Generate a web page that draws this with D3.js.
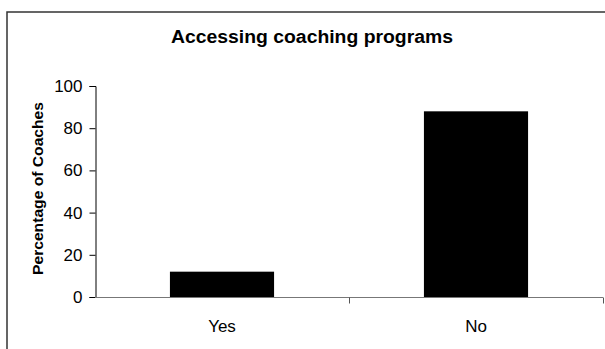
<!DOCTYPE html>
<html>
<head>
<meta charset="utf-8">
<script src="https://cdn.jsdelivr.net/npm/d3@7"></script>
<style>
  body { margin: 0; background: #fff; }
  svg { display: block; font-family: "Liberation Sans", Arial, sans-serif; }
</style>
</head>
<body>
<svg width="605" height="349"></svg>
<script>
// chart data
const categories = ["Yes", "No"]
const values = [12, 88]
const yTicks = [0, 20, 40, 60, 80, 100]

const svg = d3.select("svg")

// outer frame (cut off at right and bottom like the original)
svg.append("rect")
    .attr("x", 7)
    .attr("y", 12)
    .attr("width", 620)
    .attr("height", 360)
    .attr("fill", "none")
    .attr("stroke", "#333")
    .attr("stroke-width", 1.5)

const margin = { left: 95, right: 2, top: 86, bottom: 52 }
const width = 605
const height = 349

const x = d3.scaleBand()
    .domain(categories)
    .range([margin.left, width - margin.right])
    .paddingInner(0.59)
    .paddingOuter(0.295)

const y = d3.scaleLinear()
    .domain([0, 100])
    .range([height - margin.bottom, margin.top])

// bars
svg.append("g")
    .selectAll("rect")
    .data(values)
    .join("rect")
    .attr("x", (d, i) => x(categories[i]))
    .attr("y", d => y(d))
    .attr("width", x.bandwidth())
    .attr("height", d => y(0) - y(d))
    .attr("fill", "#000")

// y axis
const yAxis = svg.append("g")
    .attr("transform", `translate(${margin.left + 0.5},0)`)
    .call(d3.axisLeft(y).tickValues(yTicks).tickSize(6).tickPadding(7))
yAxis.selectAll("text").style("font-size", "17px").attr("fill", "#000")
yAxis.select(".domain").attr("stroke", "#000")

// x axis: ticks sit between the categories
const xAxis = svg.append("g")
    .attr("transform", `translate(0,${y(0) + 0.5})`)
xAxis.append("line")
    .attr("x1", margin.left)
    .attr("x2", width - margin.right)
    .attr("stroke", "#777")
xAxis.selectAll("line.tick")
    .data(categories)
    .join("line")
    .attr("class", "tick")
    .attr("x1", d => x(d) + x.bandwidth() + x.step() * x.paddingInner() / 2 + 0.5)
    .attr("x2", d => x(d) + x.bandwidth() + x.step() * x.paddingInner() / 2 + 0.5)
    .attr("y1", 0)
    .attr("y2", 6)
    .attr("stroke", "#555")
xAxis.selectAll("text")
    .data(categories)
    .join("text")
    .attr("x", d => x(d) + x.bandwidth() / 2)
    .attr("y", 34)
    .attr("text-anchor", "middle")
    .style("font-size", "17px")
    .text(d => d)

// title
svg.append("text")
    .attr("x", 312)
    .attr("y", 43)
    .attr("text-anchor", "middle")
    .attr("textLength", 282)
    .attr("lengthAdjust", "spacingAndGlyphs")
    .style("font-size", "17.5px")
    .style("font-weight", "bold")
    .text("Accessing coaching programs")

// y axis title
svg.append("text")
    .attr("transform", `translate(43,${(y(0) + y(100)) / 2 - 3}) rotate(-90)`)
    .attr("text-anchor", "middle")
    .attr("textLength", 173)
    .attr("lengthAdjust", "spacingAndGlyphs")
    .style("font-size", "15.5px")
    .style("font-weight", "bold")
    .text("Percentage of Coaches")
</script>
</body>
</html>
